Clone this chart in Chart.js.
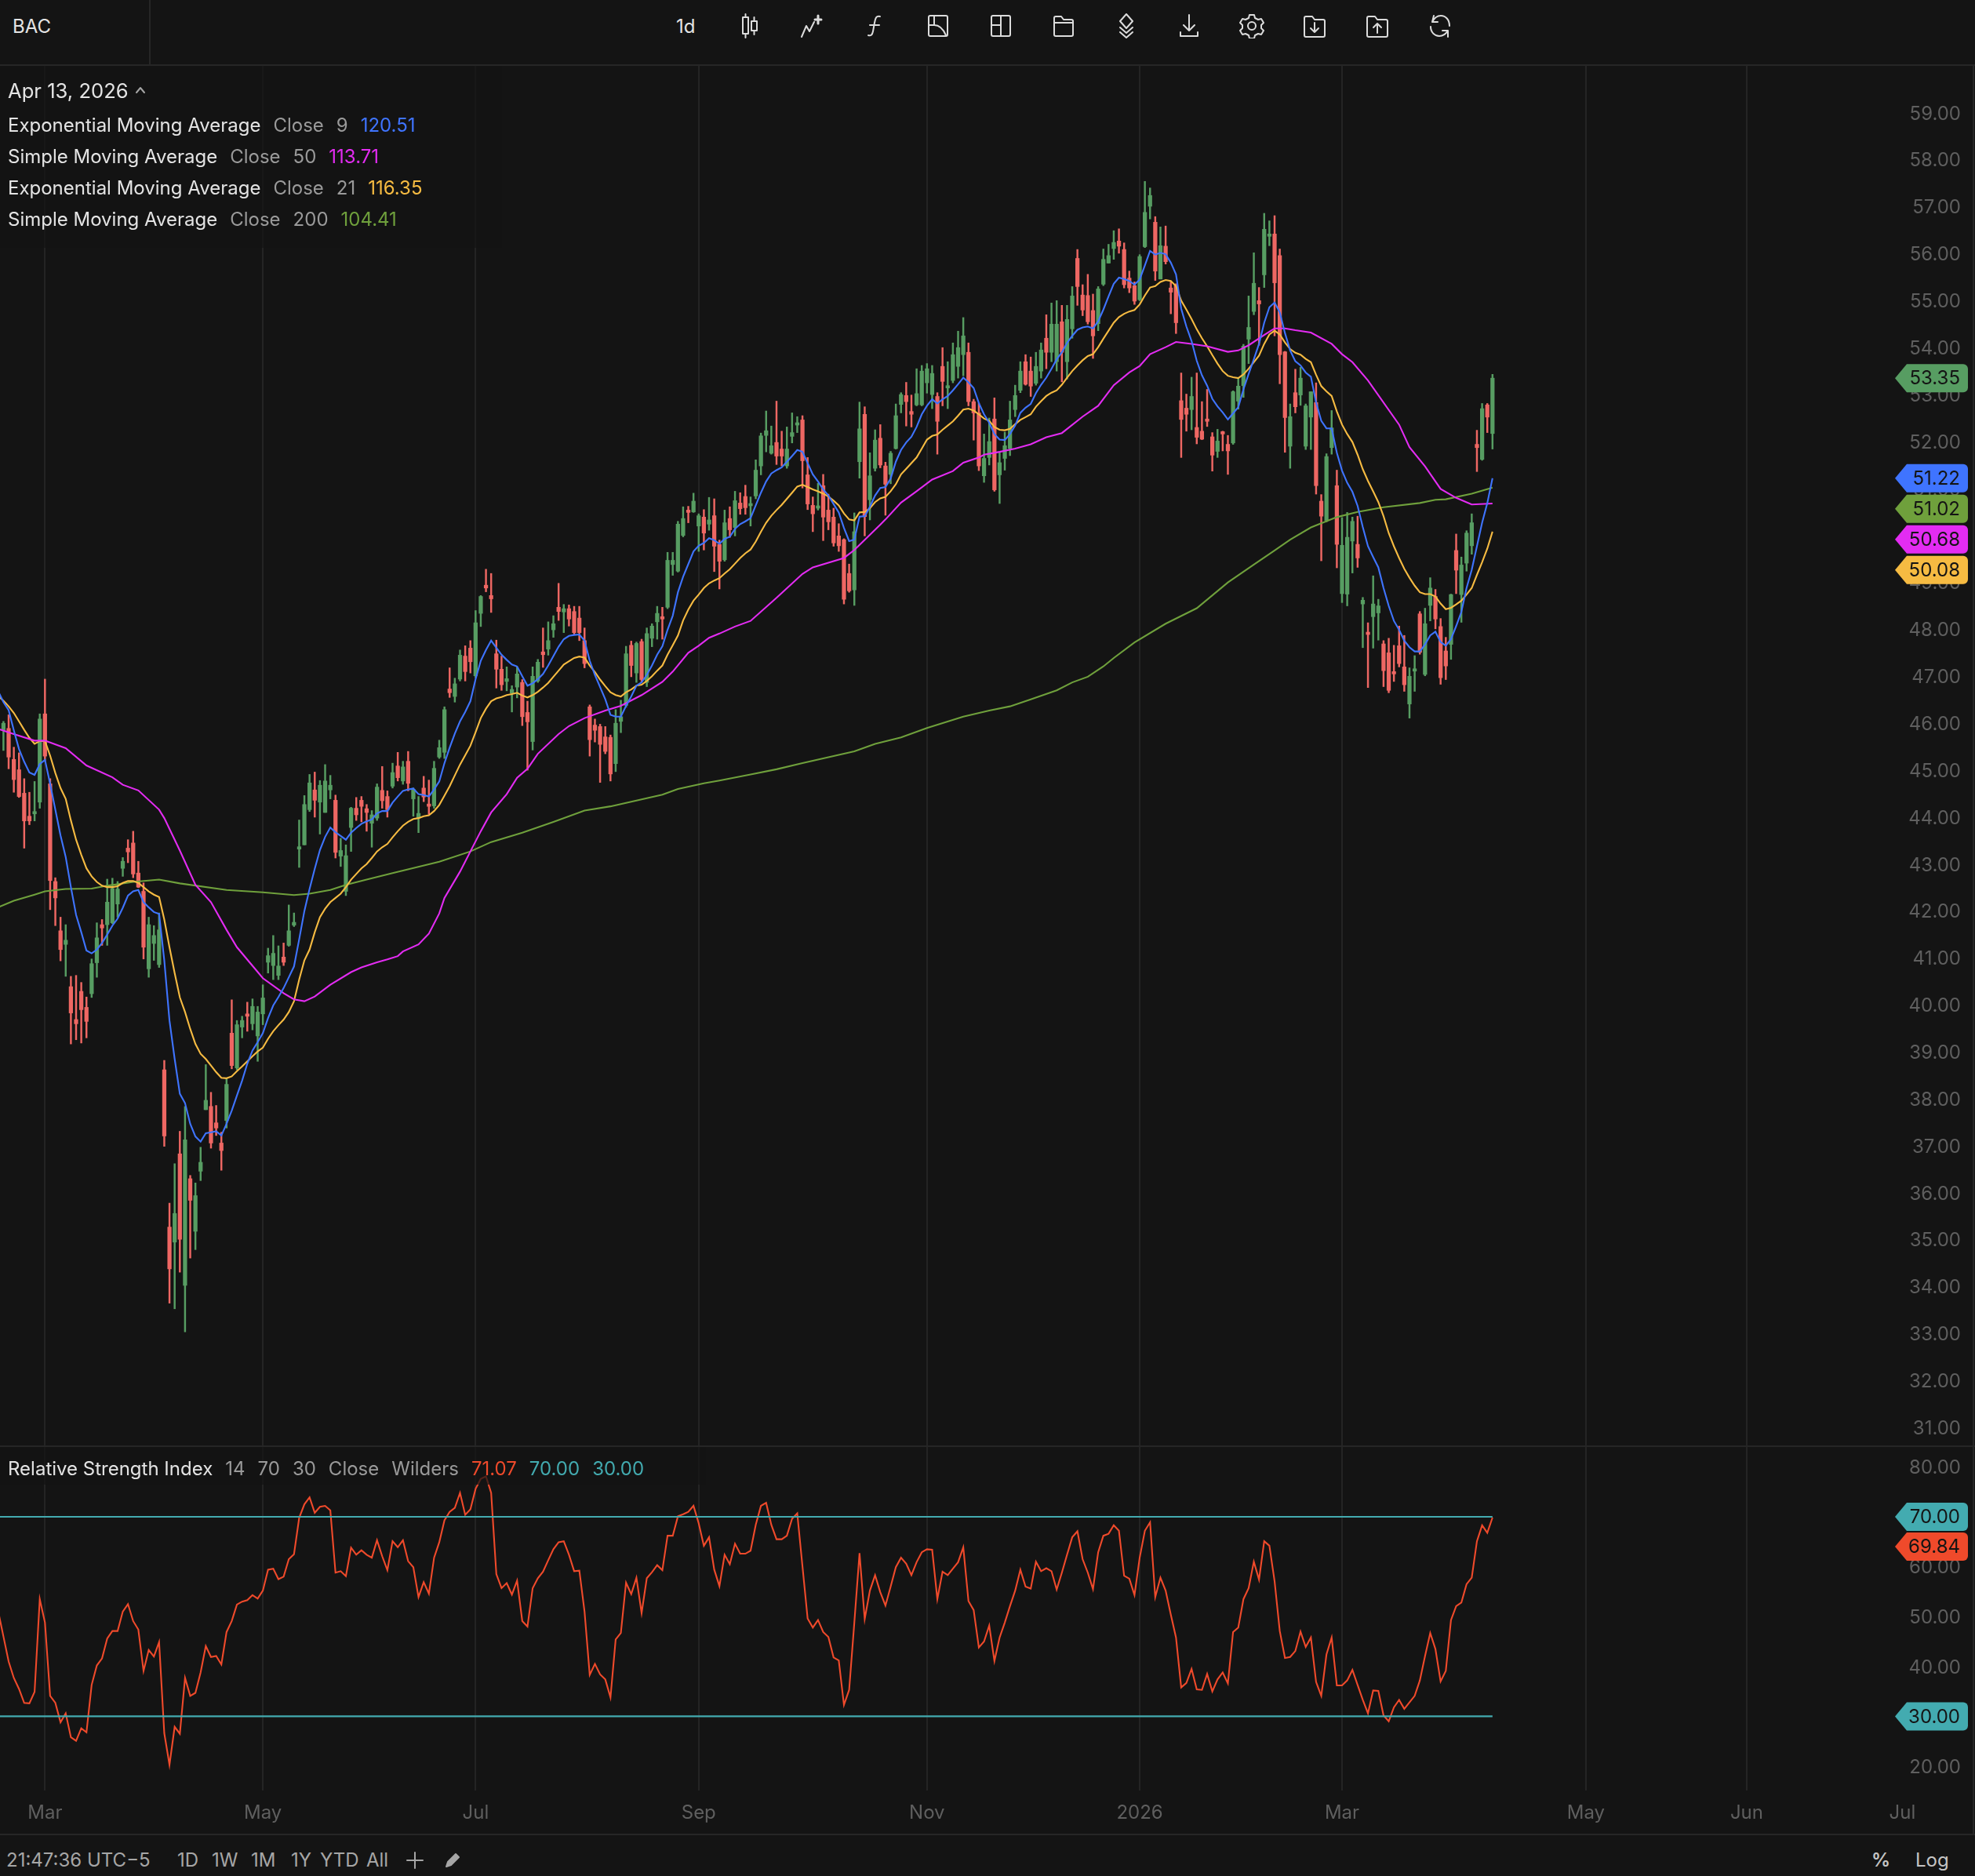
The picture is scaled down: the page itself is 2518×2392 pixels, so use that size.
<!DOCTYPE html>
<html>
<head>
<meta charset="utf-8">
<title>BAC</title>
<script src="https://cdn.jsdelivr.net/npm/chart.js@4"></script>
<style>
  html, body { margin: 0; background: #141414; overflow: hidden; }
  body { width: 2518px; height: 2392px; position: relative; font-family: Inter, sans-serif; font-size: 24px; color: #e4e4e4; }
  canvas { position: absolute; left: 0; }
  .abs { position: absolute; white-space: nowrap; line-height: 30px; }
  .rule { position: absolute; background: #262626; }
  .veil { position: absolute; background: rgba(20, 20, 20, 0.72); }
  .row { display: flex; gap: 16px; }
  .dim { color: #9a9a9a; }
  .foot { color: #a6a6a6; }
  svg.icon { position: absolute; top: 17px; width: 32px; height: 32px; fill: none; stroke: #dcdcdc; stroke-width: 2; stroke-linejoin: round; stroke-linecap: round; }
</style>
</head>
<body>
<canvas id="priceChart" width="2518" height="1759" style="top:84px"></canvas>
<canvas id="rsiChart" width="2518" height="494" style="top:1844px"></canvas>

<div class="rule" style="left:0;top:82px;width:2518px;height:2px"></div>
<div class="rule" style="left:190px;top:0;width:2px;height:82px"></div>
<div class="rule" style="left:0;top:1843px;width:2518px;height:2px"></div>
<div class="rule" style="left:0;top:2338px;width:2518px;height:2px"></div>
<div class="rule" style="left:2515px;top:84px;width:2px;height:2254px"></div>
<div class="veil" style="left:0;top:84px;width:640px;height:232px"></div>
<div class="veil" style="left:0;top:1845px;width:900px;height:48px"></div>

<div class="abs" style="left:16px;top:19px">BAC</div>
<div class="abs" style="left:862px;top:19px">1d</div>

<svg class="icon" style="left:940px" viewBox="0 0 32 32"><rect x="7" y="5" width="7" height="21"/><path d="M10.5 1v4M10.5 26v5"/><rect x="18" y="10" width="7" height="12"/><path d="M21.5 5v5M21.5 22v5"/></svg>
<svg class="icon" style="left:1019px" viewBox="0 0 32 32"><path d="M3 30l6-14 4 7 6-12"/><path d="M24 3v10M20 8h8" stroke-width="3"/></svg>
<svg class="icon" style="left:1100px" viewBox="0 0 32 32"><path d="M22 4c-5-1-6 2-7 8l-2 11c-1 5-3 6-6 5"/><path d="M9 15h12"/></svg>
<svg class="icon" style="left:1180px" viewBox="0 0 32 32"><rect x="4" y="3" width="24" height="26" rx="2"/><path d="M11 3v12M4 15h7c8 0 12 6 15 13"/></svg>
<svg class="icon" style="left:1260px" viewBox="0 0 32 32"><rect x="4" y="3" width="24" height="26" rx="2"/><path d="M16 3v26M4 15h12"/></svg>
<svg class="icon" style="left:1340px" viewBox="0 0 32 32"><path d="M4 27V6c0-1 1-2 2-2h7l3 4h10c1 0 2 1 2 2v17c0 1-1 2-2 2H6c-1 0-2-1-2-2zM4 12h24"/></svg>
<svg class="icon" style="left:1420px" viewBox="0 0 32 32"><path d="M16 1l8 9-8 9-8-9zM8 18l8 7 8-7M8 24l8 7 8-7"/></svg>
<svg class="icon" style="left:1500px" viewBox="0 0 32 32"><path d="M16 2v20M9 15l7 7 7-7M5 24v5h22v-5"/></svg>
<svg class="icon" style="left:1580px" viewBox="0 0 32 32"><circle cx="16" cy="16" r="5"/><path d="M13 2h6l1 4 4 2 4-1 3 5-3 3v4l3 3-3 5-4-1-4 2-1 4h-6l-1-4-4-2-4 1-3-5 3-3v-4l-3-3 3-5 4 1 4-2z"/></svg>
<svg class="icon" style="left:1660px" viewBox="0 0 32 32"><path d="M3 28V6c0-1 1-2 2-2h8l3 4h11c1 0 2 1 2 2v18c0 1-1 2-2 2H5c-1 0-2-1-2-2z"/><path d="M16 12v12M11 19l5 5 5-5"/></svg>
<svg class="icon" style="left:1740px" viewBox="0 0 32 32"><path d="M3 28V6c0-1 1-2 2-2h8l3 4h11c1 0 2 1 2 2v18c0 1-1 2-2 2H5c-1 0-2-1-2-2z"/><path d="M16 25V13M11 18l5-5 5 5"/></svg>
<svg class="icon" style="left:1820px" viewBox="0 0 32 32"><path d="M8 3L6 11L13 11M6 11C9 5 13 3 17 3C23 3 28 8 28 16"/><path d="M4 17C4 24 9 29 15 29C19 29 23 27 26 22M26 30V22H19"/></svg>

<div class="abs" style="left:10px;top:101px;font-size:25.6px">Apr 13, 2026</div>
<svg class="icon" style="left:171px;top:107px;width:16px;height:16px;stroke:#a6a6a6" viewBox="0 0 16 16"><path d="M3 11l5-6 5 6"/></svg>
<div class="abs row" style="left:10px;top:145px"><span>Exponential Moving Average</span><span class="dim">Close</span><span class="dim">9</span><span style="color:#3f74ff">120.51</span></div>
<div class="abs row" style="left:10px;top:185px"><span>Simple Moving Average</span><span class="dim">Close</span><span class="dim">50</span><span style="color:#e32cf2">113.71</span></div>
<div class="abs row" style="left:10px;top:225px"><span>Exponential Moving Average</span><span class="dim">Close</span><span class="dim">21</span><span style="color:#f6bb42">116.35</span></div>
<div class="abs row" style="left:10px;top:265px"><span>Simple Moving Average</span><span class="dim">Close</span><span class="dim">200</span><span style="color:#6fa03c">104.41</span></div>

<div class="abs row" style="left:10px;top:1858px"><span>Relative Strength Index</span><span class="dim">14</span><span class="dim">70</span><span class="dim">30</span><span class="dim">Close</span><span class="dim">Wilders</span><span style="color:#ef4a2b">71.07</span><span style="color:#43abb0">70.00</span><span style="color:#43abb0">30.00</span></div>

<div class="abs foot" style="left:8px;top:2357px">21:47:36 UTC−5</div>
<div class="abs foot" style="left:226px;top:2357px">1D</div>
<div class="abs foot" style="left:270px;top:2357px">1W</div>
<div class="abs foot" style="left:320px;top:2357px">1M</div>
<div class="abs foot" style="left:371px;top:2357px">1Y</div>
<div class="abs foot" style="left:408px;top:2357px">YTD</div>
<div class="abs foot" style="left:467px;top:2357px">All</div>
<svg class="icon" style="left:517px;top:2360px;width:24px;height:24px;stroke:#a6a6a6" viewBox="0 0 24 24"><path d="M12 2v20M2 12h20"/></svg>
<svg class="icon" style="left:565px;top:2360px;width:24px;height:24px;stroke:#a6a6a6;fill:#a6a6a6" viewBox="0 0 24 24"><path d="M4 20l2-6L16 4l4 4-10 10z"/></svg>
<div class="abs foot" style="left:2386px;top:2357px;font-weight:600;color:#c4c4c4">%</div>
<div class="abs foot" style="left:2442px;top:2357px;color:#c4c4c4">Log</div>

<script>
const opens = [
  45.86,45.89,45.23,45.01,44.51,44.02,44.07,44.32,46.2,44.71,
  42.63,41.58,41.29,40.39,39.69,40.29,39.95,40.24,40.9,41.71,
  41.71,41.75,42.15,42.91,43.34,43.45,42.81,42.42,40.77,41.31,
  40.86,38.62,35.27,34.95,36.83,34.03,36.3,35.18,36.46,37.77,
  37.84,37.49,37.06,37.54,39.4,38.66,39.53,39.78,39.6,39.34,
  39.81,40.91,40.84,40.63,41.02,41.27,41.7,43.32,43.41,44.16,
  44.58,44.32,44.1,44.58,44.36,43.17,42.42,43.78,44.19,44.36,
  44.18,43.87,43.98,44.57,44.44,44.66,45.09,44.77,45.19,44.39,
  43.98,44.62,44.26,44.24,45.28,45.38,46.73,46.57,46.94,47.43,
  47.6,47.01,48.34,48.94,48.72,47.48,47.15,46.89,46.64,46.77,
  46.87,46.23,45.61,46.9,47.52,47.58,47.99,48.47,48.37,48.44,
  48.38,48.24,47.76,46.35,45.96,45.93,45.71,45.7,45.14,46.04,
  46.38,47.66,47.07,47.74,46.87,47.81,48.16,48.26,48.47,49.38,
  49.24,50.0,50.54,50.5,50.2,50.39,50.24,50.42,49.81,49.48,
  50.36,50.17,50.69,50.83,50.63,50.84,51.48,52.13,51.75,51.98,
  51.84,51.48,52.11,52.35,52.46,51.29,50.64,50.58,51.06,50.54,
  50.39,49.99,49.91,49.19,48.84,51.57,52.58,50.76,51.43,52.07,
  51.48,51.3,51.85,52.79,52.98,52.64,52.78,52.78,53.25,53.0,
  52.96,53.6,53.14,53.3,53.6,53.85,53.9,52.85,52.61,51.27,
  51.66,52.48,51.29,51.64,51.85,52.68,53.09,53.7,53.5,53.24,
  53.5,54.2,53.9,53.7,54.55,53.7,54.4,55.9,55.12,55.11,
  54.79,54.51,55.35,55.8,56.11,56.27,56.09,55.48,55.32,55.02,
  56.15,57.01,56.67,55.46,56.16,55.27,55.33,52.87,52.71,52.68,
  52.3,52.22,52.47,52.1,51.79,52.2,51.94,51.97,52.86,53.19,
  54.18,54.77,55.0,55.55,56.37,56.42,55.96,53.91,51.9,53.04,
  52.99,51.9,52.52,52.83,50.73,50.32,51.87,51.06,48.76,48.75,
  49.88,49.81,48.54,47.93,48.27,48.35,47.69,47.5,47.1,47.65,
  47.2,46.41,47.11,48.33,47.04,48.51,48.7,48.06,47.54,47.68,
  49.68,48.74,49.41,49.78,51.94,51.62,52.78,52.17
];
const highs = [
  46.04,46.18,45.49,45.37,44.82,44.53,44.76,46.2,46.94,44.82,
  42.71,41.87,41.71,40.61,40.63,40.48,40.17,40.98,41.75,41.82,
  42.68,42.7,42.63,43.14,43.52,43.7,43.06,42.6,41.87,41.69,
  41.96,38.82,35.78,36.62,37.31,37.84,36.37,36.21,36.97,38.73,
  38.14,37.86,37.29,38.43,40.11,39.67,39.76,40.06,40.13,39.97,
  40.43,41.21,41.48,41.26,41.32,42.13,41.96,43.94,44.46,44.91,
  44.96,44.78,45.12,44.89,44.47,43.55,43.41,44.21,44.42,44.44,
  44.27,44.14,44.71,45.08,44.56,45.15,45.38,45.19,45.4,44.62,
  44.44,44.87,44.79,45.19,45.64,46.35,47.18,46.96,47.56,47.65,
  47.76,48.4,48.72,49.28,49.19,47.77,47.43,47.2,46.8,47.2,
  46.93,46.47,47.2,47.36,48.03,48.16,48.29,48.98,48.53,48.52,
  48.49,48.49,48.03,46.39,46.09,45.98,45.93,45.75,46.29,46.49,
  47.64,47.75,47.73,47.79,48.03,48.12,48.49,48.47,49.64,49.64,
  50.3,50.61,50.62,50.9,50.46,50.55,50.81,50.78,49.9,50.54,
  50.61,50.94,50.91,51.07,50.82,51.61,52.18,52.65,52.33,52.86,
  52.22,52.31,52.61,52.53,52.55,51.66,50.82,51.11,51.3,50.88,
  50.58,50.25,49.93,49.39,50.48,52.84,52.74,51.76,52.25,52.36,
  51.56,51.79,52.8,53.04,53.26,52.99,53.55,53.62,53.66,53.62,
  53.04,54.0,53.7,54.1,54.35,54.64,54.1,52.9,52.82,52.16,
  52.5,52.93,51.78,52.2,52.86,53.2,53.7,53.85,53.8,53.9,
  54.1,54.7,54.95,55.0,54.9,54.9,55.3,56.09,55.34,55.56,
  55.14,55.3,56.1,56.2,56.49,56.53,56.23,55.63,55.4,55.98,
  57.54,57.4,56.79,56.57,56.59,55.42,55.36,53.46,53.01,53.37,
  53.46,52.85,53.11,52.19,52.26,52.22,52.13,53.08,53.36,54.07,
  55.1,56.02,55.28,56.86,56.7,56.81,56.1,53.92,52.8,53.54,
  53.58,52.8,53.06,53.25,50.87,51.74,52.66,51.39,50.38,50.49,
  50.39,50.41,48.68,48.14,49.14,48.64,47.76,47.81,47.66,48.07,
  47.87,47.18,47.44,48.38,48.45,49.1,48.85,48.23,47.83,48.75,
  50.03,49.54,50.1,50.46,52.24,52.81,52.81,53.43
];
const lows = [
  45.42,45.03,44.53,44.42,43.34,43.84,43.92,44.19,45.2,42.03,
  41.69,40.94,40.61,39.17,39.26,39.19,39.3,40.16,40.59,41.27,
  41.27,41.73,41.87,42.74,43.03,42.71,42.5,40.98,40.59,40.95,
  40.8,36.99,33.65,33.53,34.31,33.04,34.61,34.79,36.26,37.77,
  36.95,37.22,36.48,37.38,38.64,38.62,39.3,39.44,39.47,38.8,
  39.58,40.68,40.54,40.54,40.84,41.25,41.67,42.93,43.41,44.12,
  44.0,43.64,44.1,44.39,43.13,42.95,42.33,43.27,43.93,43.9,
  43.7,43.36,43.93,44.19,44.0,44.62,44.77,44.7,44.56,44.02,
  43.67,44.33,44.06,44.19,45.25,45.25,46.55,46.45,46.9,46.9,
  47.07,46.97,48.06,48.8,48.36,46.75,46.7,46.69,46.24,46.54,
  45.95,45.0,45.43,46.87,47.19,47.45,47.83,48.19,47.93,48.07,
  47.89,47.76,47.18,45.3,45.6,44.74,45.35,44.77,44.97,45.8,
  46.34,46.99,46.87,46.88,46.78,47.63,47.79,47.79,48.44,49.15,
  49.22,49.97,50.27,50.49,49.66,49.69,50.11,49.23,48.86,49.45,
  49.96,49.99,50.45,50.45,50.2,50.78,51.29,51.78,51.73,51.51,
  51.48,51.43,51.97,52.19,51.01,50.55,50.08,50.54,49.89,50.12,
  49.77,49.66,48.54,48.79,48.51,51.22,49.99,50.33,51.37,51.44,
  50.43,51.1,51.84,52.61,52.33,52.31,52.76,52.76,53.03,52.7,
  51.73,52.76,52.7,53.25,53.35,53.4,52.76,52.03,51.38,51.13,
  51.5,50.94,50.68,51.39,51.7,52.53,53.04,53.2,52.96,53.2,
  53.35,53.55,53.7,53.5,53.27,53.33,54.2,54.9,54.68,54.5,
  53.77,54.36,55.32,55.8,55.88,56.01,55.27,55.17,54.92,55.0,
  56.13,56.74,55.43,55.46,55.78,54.72,54.3,51.66,52.22,52.25,
  51.95,52.04,52.32,51.37,51.66,51.8,51.3,51.94,52.69,52.94,
  53.66,54.7,54.05,55.28,56.17,54.25,53.23,51.77,51.43,52.61,
  52.77,51.83,51.83,50.88,49.46,50.29,51.73,49.31,48.57,48.5,
  49.2,49.32,47.61,46.76,47.6,47.77,46.78,46.65,46.89,47.2,
  46.68,46.11,46.68,47.47,47.01,48.18,48.01,46.83,46.93,47.36,
  48.76,48.15,49.24,49.6,51.36,51.6,52.19,51.84
];
const closes = [
  46.0,45.28,44.8,44.44,43.92,43.92,44.11,46.09,45.3,42.65,
  42.28,41.18,41.38,39.83,39.6,39.9,39.65,40.88,41.43,41.64,
  42.19,42.48,42.47,43.06,43.26,42.79,42.51,41.23,41.71,41.48,
  41.6,37.21,34.38,35.56,35.01,37.13,35.84,35.94,36.65,37.97,
  37.06,37.38,36.9,38.31,38.71,39.58,39.67,39.76,39.97,39.85,
  40.15,41.05,41.1,40.83,40.91,41.58,41.76,43.34,44.27,44.73,
  44.36,44.68,44.77,44.68,43.25,43.29,43.18,44.19,44.05,44.23,
  44.1,44.05,44.64,44.35,44.16,44.95,44.84,45.07,44.72,44.59,
  44.08,44.43,44.23,45.04,45.48,46.29,46.65,46.84,47.45,47.1,
  47.31,48.14,48.7,48.88,48.65,47.15,46.82,46.95,46.72,47.05,
  46.14,46.03,47.0,47.3,47.46,47.76,48.12,48.38,48.44,48.22,
  47.93,47.93,47.27,45.65,45.85,45.55,45.4,44.92,46.0,46.14,
  47.48,47.23,47.7,46.93,47.91,48.07,48.34,48.22,49.47,49.47,
  50.24,50.36,50.49,50.73,50.42,50.05,50.33,49.77,49.45,50.27,
  50.12,50.74,50.57,50.59,50.65,51.39,52.12,52.23,51.91,51.69,
  51.69,51.84,52.19,52.4,51.59,50.67,50.46,50.62,50.39,50.29,
  49.84,49.78,48.64,48.82,50.08,52.27,50.4,51.27,52.03,51.5,
  51.09,51.75,52.55,53.0,52.85,52.58,53.02,53.5,53.55,53.45,
  52.43,53.28,53.18,53.85,54.0,54.25,52.85,52.61,51.48,51.64,
  52.0,50.97,51.55,51.91,52.46,52.98,53.5,53.22,53.18,53.6,
  53.95,53.9,54.5,54.5,53.9,54.6,55.1,55.3,54.8,54.55,
  54.25,55.25,55.88,55.96,56.24,56.16,55.34,55.27,54.99,55.94,
  56.88,57.24,55.63,56.17,55.83,55.18,54.53,52.47,52.58,52.96,
  52.09,52.05,52.43,51.71,52.01,52.16,51.8,53.06,53.18,54.03,
  54.43,55.37,54.93,56.52,56.39,55.38,53.85,52.51,52.53,52.74,
  53.35,52.76,53.06,51.06,50.41,51.68,52.29,49.81,49.79,49.96,
  50.3,49.52,48.62,47.89,48.54,48.5,47.12,46.7,47.05,47.27,
  46.82,47.0,47.14,47.51,48.12,48.88,48.22,46.97,47.22,48.74,
  49.26,49.37,50.05,50.27,51.87,52.7,52.52,53.35
];

// one value per candle, first entry sits one candle left of the window
const ema9 = [
  46.68,
  46.45,46.28,45.85,45.45,45.18,44.95,44.9,45.13,45.22,44.71,
  44.16,43.61,43.15,42.51,41.92,41.55,41.16,41.1,41.18,41.32,
  41.5,41.69,41.84,42.07,42.33,42.42,42.45,42.19,42.08,41.98,
  41.94,40.95,39.67,38.85,38.11,37.91,37.47,37.2,37.09,37.27,
  37.29,37.31,37.22,37.47,37.75,38.07,38.39,38.75,39.03,39.21,
  39.4,39.72,39.99,40.17,40.36,40.59,40.82,41.4,42.0,42.47,
  42.9,43.3,43.58,43.78,43.68,43.6,43.52,43.67,43.77,43.86,
  43.91,43.95,44.08,44.13,44.13,44.31,44.44,44.56,44.59,44.61,
  44.49,44.47,44.44,44.59,44.76,45.15,45.48,45.78,46.04,46.24,
  46.47,46.94,47.33,47.56,47.76,47.61,47.46,47.35,47.25,47.21,
  47.0,46.8,46.85,46.94,47.05,47.23,47.43,47.63,47.79,47.86,
  47.88,47.89,47.76,47.33,47.03,46.77,46.51,46.18,46.14,46.14,
  46.37,46.57,46.8,46.87,47.03,47.23,47.46,47.64,47.99,48.29,
  48.79,49.12,49.39,49.66,49.78,49.84,49.94,49.9,49.82,49.93,
  49.97,50.14,50.24,50.3,50.37,50.64,50.91,51.15,51.32,51.39,
  51.45,51.57,51.69,51.82,51.78,51.54,51.3,51.15,50.98,50.85,
  50.67,50.49,50.16,49.88,49.91,50.4,50.41,50.61,50.85,51.01,
  51.03,51.21,51.57,51.82,51.98,52.1,52.31,52.58,52.76,52.9,
  52.81,52.9,52.97,53.09,53.22,53.36,53.26,53.14,52.82,52.58,
  52.4,52.16,52.04,52.03,52.16,52.34,52.61,52.72,52.8,53.03,
  53.21,53.36,53.55,53.75,53.9,54.1,54.25,54.38,54.43,54.45,
  54.41,54.56,54.81,55.09,55.36,55.49,55.46,55.42,55.34,55.45,
  55.75,56.06,55.98,56.02,55.99,55.81,55.56,54.83,54.45,54.14,
  53.72,53.41,53.19,52.91,52.75,52.62,52.47,52.6,52.73,53.11,
  53.44,53.75,54.08,54.53,54.86,54.96,54.75,54.31,53.94,53.71,
  53.62,53.47,53.38,52.83,52.44,52.28,52.28,51.76,51.38,51.12,
  50.93,50.63,50.18,49.77,49.54,49.32,48.88,48.5,48.18,47.99,
  47.76,47.62,47.53,47.53,47.68,47.87,47.95,47.73,47.65,47.79,
  48.07,48.37,48.88,49.27,49.77,50.27,50.69,51.22
];
const ema21 = [
  46.58,
  46.48,46.36,46.22,46.04,45.86,45.69,45.56,45.62,45.62,45.31,
  44.94,44.62,44.39,43.93,43.52,43.2,42.91,42.74,42.62,42.54,
  42.51,42.51,42.53,42.6,42.64,42.64,42.6,42.51,42.42,42.35,
  42.3,41.82,41.23,40.68,40.16,39.85,39.49,39.17,38.96,38.85,
  38.71,38.57,38.45,38.44,38.48,38.59,38.69,38.8,38.91,39.01,
  39.09,39.28,39.44,39.57,39.69,39.85,40.08,40.54,40.95,41.18,
  41.55,41.87,42.05,42.19,42.28,42.37,42.51,42.67,42.79,42.91,
  43.0,43.13,43.27,43.36,43.43,43.57,43.7,43.82,43.9,43.96,
  43.98,44.02,44.04,44.13,44.26,44.46,44.66,44.89,45.12,45.32,
  45.52,45.81,46.11,46.31,46.47,46.53,46.56,46.6,46.62,46.65,
  46.59,46.55,46.6,46.67,46.76,46.86,46.99,47.12,47.25,47.32,
  47.39,47.42,47.4,47.23,47.09,46.93,46.79,46.66,46.6,46.57,
  46.66,46.72,46.8,46.82,46.9,47.0,47.12,47.23,47.46,47.66,
  47.87,48.19,48.42,48.61,48.74,48.88,48.98,49.04,49.09,49.19,
  49.28,49.4,49.52,49.62,49.7,49.87,50.08,50.27,50.42,50.54,
  50.65,50.78,50.91,51.04,51.08,51.03,50.98,50.94,50.89,50.83,
  50.74,50.64,50.47,50.34,50.32,50.49,50.5,50.58,50.71,50.79,
  50.82,50.94,51.09,51.3,51.42,51.54,51.66,51.85,52.04,52.12,
  52.15,52.25,52.34,52.43,52.55,52.68,52.7,52.66,52.58,52.49,
  52.44,52.31,52.25,52.24,52.27,52.37,52.46,52.52,52.58,52.74,
  52.86,52.97,53.04,53.09,53.21,53.36,53.5,53.62,53.73,53.82,
  53.86,54.01,54.19,54.36,54.53,54.65,54.72,54.77,54.8,54.92,
  55.11,55.28,55.31,55.4,55.44,55.42,55.31,55.0,54.81,54.61,
  54.39,54.2,54.03,53.84,53.66,53.5,53.4,53.37,53.35,53.43,
  53.55,53.69,53.83,54.08,54.28,54.36,54.28,54.11,53.97,53.89,
  53.85,53.76,53.69,53.42,53.18,53.07,52.97,52.64,52.36,52.16,
  51.99,51.72,51.41,51.16,50.94,50.71,50.41,50.05,49.77,49.52,
  49.29,49.1,48.93,48.79,48.75,48.75,48.7,48.55,48.43,48.46,
  48.53,48.61,48.74,48.88,49.16,49.43,49.72,50.08
];

// the two slow averages are smooth, read at their bends only
const sma50Days = [-1,2,6,8,12,16,21,23,26,30,31,34,37,40,43,45,50,54,56,58,60,63,67,69,72,74,76,77,80,82,84,85,88,90,92,94,97,99,101,103,107,109,112,116,119,123,127,129,132,134,136,138,141,144,149,154,156,162,164,169,170,173,176,179,183,185,188,189,192,195,198,201,204,208,211,214,217,219,221,224,226,229,232,236,238,240,243,245,247,249,252,256,258,260,263,269,271,274,277,280,283,287];
const sma50 = [45.88,45.77,45.63,45.63,45.47,45.1,44.85,44.69,44.57,44.16,43.98,43.29,42.56,42.19,41.6,41.23,40.57,40.25,40.12,40.08,40.18,40.43,40.7,40.8,40.91,40.97,41.04,41.14,41.29,41.52,41.95,42.28,42.84,43.27,43.7,44.1,44.49,44.84,45.03,45.35,45.77,45.94,46.11,46.27,46.37,46.6,46.88,47.1,47.5,47.65,47.82,47.91,48.06,48.18,48.67,49.18,49.32,49.52,49.69,50.23,50.34,50.7,50.94,51.19,51.37,51.55,51.66,51.72,51.78,51.85,51.94,52.09,52.18,52.53,52.76,53.2,53.47,53.61,53.86,54.01,54.12,54.08,54.03,53.91,53.94,54.05,54.27,54.41,54.41,54.37,54.32,54.08,53.86,53.69,53.3,52.36,51.88,51.47,50.99,50.8,50.66,50.68];
const sma200Days = [-1,2,6,8,12,17,20,25,30,34,43,50,56,59,63,66,70,75,84,90,94,100,106,112,117,127,130,135,138,144,149,154,164,168,173,178,185,190,194,198,203,206,209,212,214,218,224,230,236,241,245,248,252,257,261,266,273,276,278,283,287];
const sma200 = [42.08,42.22,42.35,42.42,42.47,42.48,42.54,42.62,42.67,42.59,42.45,42.4,42.34,42.37,42.45,42.56,42.67,42.81,43.05,43.27,43.47,43.67,43.9,44.14,44.23,44.48,44.6,44.72,44.78,44.91,45.02,45.15,45.4,45.56,45.7,45.9,46.14,46.27,46.36,46.51,46.7,46.87,46.99,47.21,47.39,47.72,48.12,48.45,49.0,49.38,49.68,49.91,50.17,50.39,50.5,50.6,50.69,50.76,50.77,50.89,51.02];

const rsi = [
  51,
  46.0,41.0,37.7,35.5,32.7,32.6,34.9,53.5,48.8,34.1,
  32.7,28.8,30.6,25.8,25.1,27.6,26.8,36.3,40.2,41.6,
  45.6,47.1,47.1,51,52.5,49.1,47.4,39.1,43.3,42,
  44.9,26.6,20.3,27.9,26.5,37.7,34.1,34.7,38.8,44.1,
  41.9,42.1,40.4,46.9,49.1,52.4,53,53.3,54.3,53.6,
  55.2,59.4,59.6,57.5,58,61.5,62.5,69.8,72.5,73.9,
  70.8,72,72.2,71.3,58.8,59.1,58.1,63.8,62.4,63.3,
  62.4,61.8,65.3,62.1,59.3,65.1,63.9,65.3,61.1,59.9,
  53.9,56.9,54.6,61.8,64.9,69.3,71,71.8,74.8,70.4,
  71.5,75.6,77.6,78.1,74.8,58.5,55.7,56.7,54.4,57.2,
  49.1,48,55.7,57.7,59,61.3,63.5,64.9,65.1,62.4,
  59.1,59.2,51,38.3,40.5,38.4,37.4,33.8,45.4,46.7,
  56.8,54.5,57.8,50.7,57.7,58.9,60.3,59.3,66.2,66.2,
  70.1,70.5,71,72.2,68.7,64.2,65.9,59.4,56.1,62.4,
  60.5,64.6,62.6,62.6,63.2,68.4,72.2,72.8,68.4,65.5,
  65.5,66.2,69.6,70.7,60.1,49.6,47.8,49.3,46.9,45.9,
  41.8,41.2,32.3,35.3,48.8,62.7,49.5,55.2,58.3,54.9,
  52.2,56,59.9,61.8,60.6,58.3,60.9,62.9,63.5,63.4,
  53.5,59,58.3,59.6,60.9,63.9,53.1,51.3,43.8,45,
  48.2,41.1,45.8,48.8,52.1,55.2,59.4,56,55.6,61,
  59.1,59.7,59.1,55.4,58.8,62.4,65.9,67.1,61.5,58.8,
  55.5,62.9,66.2,66.6,68.3,67.2,58.2,57.6,54.3,61.8,
  67.2,68.9,53.9,57.8,55.2,50.4,45.8,35.8,36.7,39.5,
  35.4,35.3,38.5,35,37.4,38.8,36.6,46.9,47.8,53.5,
  55.7,61,57.4,65.1,64.2,57.1,47.1,41.7,41.9,43.1,
  47,43.9,45.8,36.9,34.1,42.4,45.8,36.2,36.2,37.2,
  39.3,36.3,33.3,30.6,35.2,35.1,30.2,29,31.8,33.3,
  31.5,32.8,34.1,37.2,42.1,46.7,43.5,37,39.1,49.3,
  52.1,52.8,56.5,57.8,65.1,68.3,66.8,69.84
];
const rsiBands = [70, 30];

const priceTicks = [31,32,33,34,35,36,37,38,39,40,41,42,43,44,45,46,47,48,49,50,51,52,53,54,55,56,57,58,59];
const rsiTicks = [20,30,40,50,60,70,80];
const monthDays = [8,50,91,134,178,219,258,305,336,366];
const monthLabels = ['Mar','May','Jul','Sep','Nov','2026','Mar','May','Jun','Jul'];

const priceTagValues = [53.35,51.22,51.02,50.68,50.08];
const priceTagColors = ['#579d62','#3f74ff','#6fa03c','#e32cf2','#f6bb42'];
const rsiTagValues = [70,69.84,30];
const rsiTagColors = ['#43abb0','#ef4a2b','#43abb0'];

const UP = '#579d62', DOWN = '#ee6763', GRID = '#242424', AXIS_TEXT = '#5f5f5f';
const FONT = { family: 'Inter', size: 24 };
const lastDay = opens.length - 1;
const xMin = -0.665, xMax = 380;

const candleColors = closes.map((c, i) => (c >= opens[i] ? UP : DOWN));

function lineData(values) {
    return values.map((v, i) => ({ x: i - 1, y: v }));
}

function pickData(days, values) {
    return days.map((d, i) => ({ x: d, y: values[i] }));
}

function lineSet(data, color, order) {
    return {
        type: 'line', data: data, borderColor: color, borderWidth: 2.1,
        pointRadius: 0, tension: 0, order: order
    };
}

// price labels on the right, pushed down when they would overlap
function tagPlugin(values, colors, gap) {
    return {
        id: 'tags',
        afterDraw(chart) {
            const ctx = chart.ctx;
            const scale = chart.scales.y;
            let lastY = -1000;
            ctx.save();
            ctx.font = '24px Inter';
            ctx.textAlign = 'right';
            ctx.textBaseline = 'middle';
            values.forEach((v, i) => {
                const y = Math.max(scale.getPixelForValue(v), lastY + gap);
                lastY = y;
                const left = 2416, shoulder = 2431, right = 2509, h = 18, r = 6;
                ctx.beginPath();
                ctx.moveTo(left, y);
                ctx.lineTo(shoulder, y - h);
                ctx.lineTo(right - r, y - h);
                ctx.arcTo(right, y - h, right, y - h + r, r);
                ctx.lineTo(right, y + h - r);
                ctx.arcTo(right, y + h, right - r, y + h, r);
                ctx.lineTo(shoulder, y + h);
                ctx.closePath();
                ctx.fillStyle = colors[i];
                ctx.fill();
                ctx.fillStyle = '#141414';
                ctx.fillText(v.toFixed(2), 2499, y + 1);
            });
            ctx.restore();
        }
    };
}

function xAxis(showLabels) {
    return {
        type: 'linear', min: xMin, max: xMax, offset: false,
        afterBuildTicks(axis) { axis.ticks = monthDays.map(d => ({ value: d })); },
        afterFit(axis) { axis.height = showLabels ? 55 : 0; },
        border: { display: false },
        grid: {
            offset: false,
            color: ctx => (ctx.index < 9 ? GRID : 'transparent'),
            lineWidth: 2, drawTicks: false
        },
        ticks: {
            display: showLabels, autoSkip: false, maxRotation: 0, padding: 14,
            color: AXIS_TEXT, font: FONT,
            callback: (v, i) => monthLabels[i]
        }
    };
}

function yAxis(min, max, tickList) {
    return {
        position: 'right', min: min, max: max,
        afterBuildTicks(axis) { axis.ticks = tickList.map(v => ({ value: v })); },
        border: { display: false },
        grid: { display: false, drawTicks: false },
        ticks: {
            mirror: true, padding: -18, labelOffset: 1.5, color: AXIS_TEXT, font: FONT,
            callback: v => v.toFixed(2)
        }
    };
}

const baseOptions = {
    responsive: false,
    animation: false,
    devicePixelRatio: 1,
    layout: { padding: 0 },
    plugins: { legend: { display: false }, tooltip: { enabled: false } },
    events: []
};

new Chart(document.getElementById('priceChart'), {
    type: 'bar',
    data: {
        datasets: [
            lineSet(lineData(ema9), '#3f74ff', 1),
            lineSet(pickData(sma50Days, sma50), '#e32cf2', 2),
            lineSet(lineData(ema21), '#f6bb42', 3),
            lineSet(pickData(sma200Days, sma200), '#6fa03c', 4),
            {
                data: opens.map((o, i) => ({ x: i, y: [o, closes[i]] })),
                backgroundColor: candleColors, barThickness: 4.6, minBarLength: 3,
                grouped: false, order: 8
            },
            {
                data: opens.map((o, i) => ({ x: i, y: [lows[i], highs[i]] })),
                backgroundColor: candleColors, barThickness: 1.8,
                grouped: false, order: 9
            }
        ]
    },
    options: Object.assign({}, baseOptions, {
        scales: { x: xAxis(false), y: yAxis(30.62, 60.0, priceTicks) }
    }),
    plugins: [tagPlugin(priceTagValues, priceTagColors, 39)]
});

new Chart(document.getElementById('rsiChart'), {
    type: 'line',
    data: {
        datasets: [
            lineSet(lineData(rsi), '#ef4a2b', 2),
            lineSet([{ x: -1, y: rsiBands[0] }, { x: lastDay, y: rsiBands[0] }], '#43abb0', 1),
            lineSet([{ x: -1, y: rsiBands[1] }, { x: lastDay, y: rsiBands[1] }], '#43abb0', 1)
        ]
    },
    options: Object.assign({}, baseOptions, {
        scales: { x: xAxis(true), y: yAxis(15.13, 84.15, rsiTicks) }
    }),
    plugins: [tagPlugin(rsiTagValues, rsiTagColors, 38)]
});
</script>
</body>
</html>
